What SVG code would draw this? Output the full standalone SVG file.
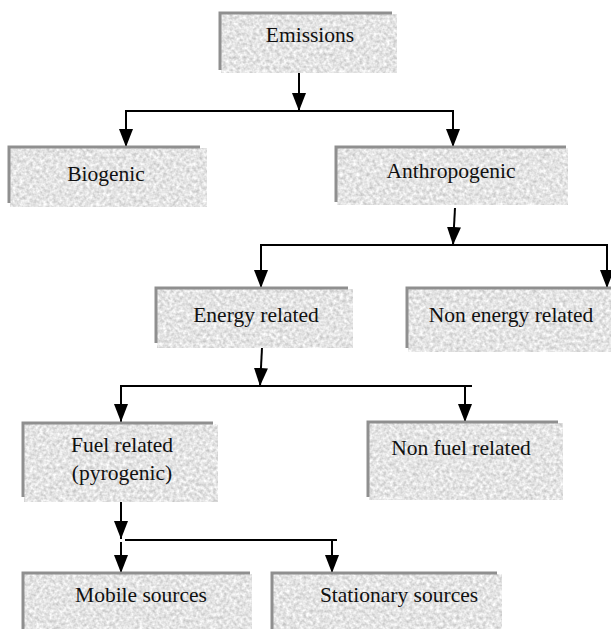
<svg xmlns="http://www.w3.org/2000/svg" width="611" height="629" viewBox="0 0 611 629">
<style>
.fill{fill:#e9e9e9;filter:url(#tex)}
.bd{fill:none;stroke:#8f8f8f;stroke-width:3}
.t{font-family:'Times New Roman','Liberation Serif','DejaVu Serif',Times,serif;font-size:21.5px;fill:#111;text-anchor:middle}
.c{fill:none;stroke:#000;stroke-width:2}
.a{marker-end:url(#ah)}
</style>
<defs>
<filter id="tex" x="0" y="0" width="1" height="1" color-interpolation-filters="sRGB">
<feTurbulence type="fractalNoise" baseFrequency="0.3" numOctaves="2" seed="7" result="n"/>
<feColorMatrix in="n" type="matrix" values="0.35 0 0 0 0.72  0.35 0 0 0 0.72  0.35 0 0 0 0.72  0 0 0 0 1" result="g"/>
<feComposite in="g" in2="SourceGraphic" operator="in"/>
</filter>
<marker id="ah" markerUnits="userSpaceOnUse" markerWidth="18" markerHeight="14" viewBox="0 0 18 14" refX="18" refY="7" orient="auto">
<path d="M0,0 L18,7 L0,14 z" fill="#000"/>
</marker>
</defs>
<rect width="611" height="629" fill="#fff"/>

<g id="connectors">
<path class="c a" d="M299,73 V111"/>
<path class="c" d="M126,111 H453"/>
<path class="c a" d="M126,110 V147"/>
<path class="c a" d="M453,110 V147"/>
<path class="c a" d="M455,208 L453,245"/>
<path class="c" d="M261,245 H607"/>
<path class="c a" d="M261,244 V288"/>
<path class="c a" d="M607,244 V288"/>
<path class="c a" d="M262,348 L260,386"/>
<path class="c" d="M120,386 H472"/>
<path class="c a" d="M121,385 V422"/>
<path class="c a" d="M465,385 V422"/>
<path class="c a" d="M121,500 V539"/>
<path class="c" d="M125,540 H337"/>
<path class="c a" d="M121,542 V573"/>
<path class="c a" d="M332,539 V573"/>
</g>

<g id="emissions">
<rect class="fill" x="221" y="14" width="176" height="59"/>
<path class="bd" d="M220,70 V13 H392"/>
<text class="t" x="310" y="42" font-family="Times New Roman, Liberation Serif, serif">Emissions</text>
</g>
<g id="biogenic">
<rect class="fill" x="10" y="148" width="197" height="59"/>
<path class="bd" d="M9,203 V147 H200"/>
<text class="t" x="106" y="181" font-family="Times New Roman, Liberation Serif, serif">Biogenic</text>
</g>
<g id="anthropogenic">
<rect class="fill" x="337" y="148" width="231" height="57"/>
<path class="bd" d="M336,202 V147 H566"/>
<text class="t" x="451" y="178" font-family="Times New Roman, Liberation Serif, serif">Anthropogenic</text>
</g>
<g id="energy">
<rect class="fill" x="157" y="289" width="196" height="59"/>
<path class="bd" d="M156,343 V288 H348"/>
<text class="t" x="256" y="322" font-family="Times New Roman, Liberation Serif, serif">Energy related</text>
</g>
<g id="non-energy">
<rect class="fill" x="408" y="289" width="203" height="63"/>
<path class="bd" d="M407,348 V288 H611"/>
<text class="t" x="511" y="322" font-family="Times New Roman, Liberation Serif, serif">Non energy related</text>
</g>
<g id="fuel">
<rect class="fill" x="24" y="424" width="194" height="78"/>
<path class="bd" d="M23,497 V423 H213"/>
<text class="t" x="122" y="452" font-family="Times New Roman, Liberation Serif, serif">Fuel related</text>
<text class="t" x="122" y="480" font-family="Times New Roman, Liberation Serif, serif">(pyrogenic)</text>
</g>
<g id="non-fuel">
<rect class="fill" x="369" y="423" width="194" height="77"/>
<path class="bd" d="M368,497 V422 H558"/>
<text class="t" x="461" y="455" font-family="Times New Roman, Liberation Serif, serif">Non fuel related</text>
</g>
<g id="mobile">
<rect class="fill" x="24" y="574" width="228" height="55"/>
<path class="bd" d="M23,629 V573 H250"/>
<text class="t" x="141" y="602" font-family="Times New Roman, Liberation Serif, serif">Mobile sources</text>
</g>
<g id="stationary">
<rect class="fill" x="273" y="574" width="229" height="55"/>
<path class="bd" d="M272,629 V573 H497"/>
<text class="t" x="399" y="602" font-family="Times New Roman, Liberation Serif, serif">Stationary sources</text>
</g>
</svg>
